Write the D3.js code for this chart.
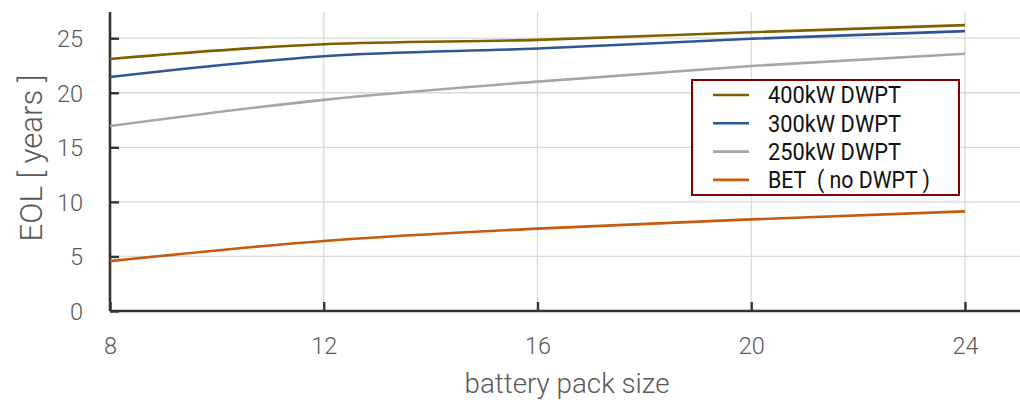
<!DOCTYPE html>
<html>
<head>
<meta charset="utf-8">
<script src="https://cdn.jsdelivr.net/npm/d3@7"></script>
<style>
  html, body { margin: 0; padding: 0; background: #fff; }
  svg { display: block; }
  text { font-family: Roboto, "DejaVu Sans Condensed", "Noto Sans", sans-serif; }
</style>
</head>
<body>
<svg id="chart" width="1020" height="403"></svg>
<script>
// Battery pack sizes on the x axis
const packSizes = [8, 12, 16, 20, 24];

// End-of-life (years) per charging scenario
const eol400 = [23.1, 24.45, 24.85, 25.55, 26.2];
const eol300 = [21.45, 23.35, 24.05, 24.95, 25.65];
const eol250 = [16.95, 19.35, 21.02, 22.45, 23.58];
const eolBET = [4.57, 6.42, 7.55, 8.4, 9.13];

const seriesNames = ["400kW DWPT", "300kW DWPT", "250kW DWPT", "BET\u00a0 ( no DWPT )"];
const seriesColors = ["#7f6000", "#2f5597", "#a6a6a6", "#c55a11"];
const seriesValues = [eol400, eol300, eol250, eolBET];

const xTicks = [8, 12, 16, 20, 24];
const yTicks = [0, 5, 10, 15, 20, 25];

const svg = d3.select("#chart");
const W = 1020, H = 403;
const plotLeft = 110, plotBottom = 311, plotTop = 12;

const x = d3.scaleLinear().domain([8, 25.03]).range([plotLeft, W]);
const y = d3.scaleLinear().domain([0, 27.4]).range([plotBottom, plotTop]);

// squeeze a text element horizontally so it spans a given width
function fitWidth(sel, width) {
  sel.attr("textLength", width).attr("lengthAdjust", "spacingAndGlyphs");
}

// grid
const grid = svg.append("g");
grid.selectAll("line.h").data(yTicks.filter(d => d > 0)).join("line")
  .attr("x1", plotLeft).attr("x2", W)
  .attr("y1", d => y(d)).attr("y2", d => y(d))
  .attr("stroke", "#d9d9d9").attr("stroke-width", 1.3);
grid.selectAll("line.v").data(xTicks.filter(d => d > 8)).join("line")
  .attr("x1", d => x(d)).attr("x2", d => x(d))
  .attr("y1", plotBottom).attr("y2", plotTop)
  .attr("stroke", "#d9d9d9").attr("stroke-width", 1.3);

// axes
const xAxis = svg.append("g").attr("transform", `translate(0,${plotBottom})`)
  .call(d3.axisBottom(x).tickValues(xTicks).tickSize(-9).tickPadding(26).tickSizeOuter(0));
const yAxis = svg.append("g").attr("transform", `translate(${plotLeft},0)`)
  .call(d3.axisLeft(y).tickValues(yTicks).tickSize(-9).tickPadding(27).tickSizeOuter(0));
[xAxis, yAxis].forEach(a => {
  a.select(".domain").attr("stroke", "#333").attr("stroke-width", 2.6);
  a.selectAll(".tick line").attr("stroke", "#333").attr("stroke-width", 2.4);
  a.selectAll(".tick text").attr("fill", "#595959").attr("font-size", 23.5)
    .attr("font-weight", 300);
});
yAxis.selectAll(".tick text").attr("dy", "0.36em");
yAxis.select(".domain").attr("d", `M0,${plotBottom}V${plotTop}`);
xAxis.select(".domain").attr("d", `M${plotLeft},0H${W}`);

// titles
svg.append("text").attr("x", 567).attr("y", 393).attr("text-anchor", "middle")
  .attr("fill", "#595959").attr("font-size", 28).attr("font-weight", 300)
  .text("battery pack size").call(fitWidth, 205);
svg.append("text").attr("transform", "translate(42,158) rotate(-90)").attr("text-anchor", "middle")
  .attr("fill", "#595959").attr("font-size", 32).attr("font-weight", 300)
  .text("EOL [ years ]").call(fitWidth, 167);

// series lines
const line = d3.line().x((d, i) => x(packSizes[i])).y(d => y(d)).curve(d3.curveMonotoneX);
svg.append("g").selectAll("path").data(seriesValues).join("path")
  .attr("d", line).attr("fill", "none")
  .attr("stroke", (d, i) => seriesColors[i]).attr("stroke-width", 2.6);

// legend
const legendTextWidths = [133, 133, 133, 162];
const lg = svg.append("g").attr("transform", "translate(692,80)");
lg.append("rect").attr("width", 267).attr("height", 115)
  .attr("fill", "#fff").attr("stroke", "#7f0000").attr("stroke-width", 2);
const rows = lg.selectAll("g.row").data(seriesNames).join("g")
  .attr("transform", (d, i) => `translate(0,${15 + i * 28.3})`);
rows.append("line").attr("x1", 21).attr("x2", 57)
  .attr("stroke", (d, i) => seriesColors[i]).attr("stroke-width", 2.6);
rows.append("text").attr("x", 76).attr("dy", "0.36em").attr("font-size", 23.5)
  .attr("fill", "#111").text(d => d)
  .each(function (d, i) { d3.select(this).call(fitWidth, legendTextWidths[i]); });
</script>
</body>
</html>
